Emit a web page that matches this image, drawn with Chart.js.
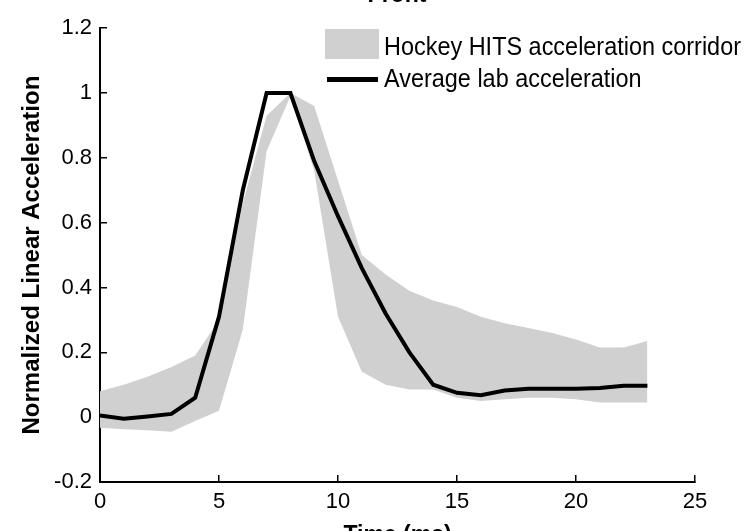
<!DOCTYPE html>
<html>
<head>
<meta charset="utf-8">
<script src="https://cdn.jsdelivr.net/npm/chart.js@4.4.0/dist/chart.umd.min.js"></script>
<style>
  html, body { margin: 0; padding: 0; background: #fff; overflow: hidden; }
  #wrap { width: 756px; height: 531px; }
</style>
</head>
<body>
<div id="wrap"><canvas id="myLineChart"></canvas></div>
<script>
// time (ms)
let times = [0, 1, 2, 3, 4, 5, 6, 7, 8, 9, 10, 11, 12, 13, 14, 15, 16, 17, 18, 19, 20, 21, 22, 23];
// average lab acceleration (normalized)
let labAccel = [0.005, -0.005, 0.002, 0.01, 0.06, 0.31, 0.70, 1.0, 1.0, 0.79, 0.62, 0.46, 0.32, 0.20, 0.10, 0.075, 0.068, 0.082, 0.088, 0.088, 0.088, 0.09, 0.097, 0.097];
// hockey HITS corridor bounds
let corridorUpper = [0.08, 0.10, 0.125, 0.155, 0.19, 0.30, 0.66, 0.93, 1.0, 0.96, 0.73, 0.50, 0.44, 0.39, 0.36, 0.34, 0.31, 0.29, 0.275, 0.26, 0.24, 0.215, 0.215, 0.235];
let corridorLower = [-0.033, -0.037, -0.04, -0.045, -0.012, 0.02, 0.27, 0.82, 0.99, 0.76, 0.31, 0.14, 0.10, 0.085, 0.085, 0.06, 0.05, 0.055, 0.06, 0.06, 0.055, 0.045, 0.045, 0.045];

let xTicks = [0, 5, 10, 15, 20, 25];
let yTicks = [-0.2, 0, 0.2, 0.4, 0.6, 0.8, 1, 1.2];

let legendLabels = ['Hockey HITS acceleration corridor', 'Average lab acceleration'];
let chartTitle = 'Front';

const FONT = "'Liberation Sans', Arial, sans-serif";
const GRAY = '#d0d0d0';

function pts(vals) {
    return times.map((t, i) => ({ x: t, y: vals[i] }));
}

// legend sits inside the axes, top right, like matlab
const cornerLegend = {
    id: 'cornerLegend',
    afterDraw(chart) {
        let c = chart.ctx;
        c.save();
        c.fillStyle = GRAY;
        c.fillRect(325, 29, 54, 30);
        c.strokeStyle = '#000';
        c.lineWidth = 5;
        c.beginPath();
        c.moveTo(327, 79.5);
        c.lineTo(378, 79.5);
        c.stroke();
        c.fillStyle = '#000';
        c.font = '25px ' + FONT;
        c.textBaseline = 'alphabetic';
        let w = c.measureText(legendLabels[0]).width;
        let sx = 357 / w;
        c.translate(384, 0);
        c.scale(sx, 1);
        c.fillText(legendLabels[0], 0, 55);
        c.fillText(legendLabels[1], 0, 87);
        c.restore();

        // title, mostly cut off at the top edge
        c.save();
        c.fillStyle = '#000';
        c.font = 'bold 23px ' + FONT;
        c.textAlign = 'center';
        c.textBaseline = 'alphabetic';
        c.fillText(chartTitle, 397, 2);
        c.restore();
    }
};

let ctx = document.getElementById('myLineChart').getContext('2d');
let myLineChart = new Chart(ctx, {
    type: 'line',
    data: {
        datasets: [{
            label: legendLabels[1],
            data: pts(labAccel),
            borderColor: '#000',
            borderWidth: 4,
            pointRadius: 0,
            fill: false,
            order: 0,
        }, {
            label: legendLabels[0],
            data: pts(corridorUpper),
            borderColor: 'rgba(0,0,0,0)',
            borderWidth: 0,
            pointRadius: 0,
            backgroundColor: GRAY,
            fill: '+1',
            order: 1,
        }, {
            label: 'corridor lower',
            data: pts(corridorLower),
            borderColor: 'rgba(0,0,0,0)',
            borderWidth: 0,
            pointRadius: 0,
            fill: false,
            order: 2,
        }]
    },
    options: {
        responsive: true,
        maintainAspectRatio: false,
        animation: false,
        layout: { padding: { top: 21, right: 61, left: 0, bottom: 0 } },
        plugins: {
            legend: { display: false },
            tooltip: { enabled: false },
        },
        scales: {
            x: {
                type: 'linear',
                min: 0,
                max: 25,
                afterBuildTicks: (axis) => { axis.ticks = xTicks.map(v => ({ value: v })); },
                afterFit: (axis) => { axis.height = 49; },
                grid: { drawOnChartArea: false, tickLength: -7, color: '#000', lineWidth: 1.5 },
                border: { color: '#000', width: 2 },
                ticks: {
                    padding: 14,
                    color: '#000',
                    maxRotation: 0,
                    autoSkip: false,
                    font: { family: FONT, size: 22 },
                    callback: (v) => String(v),
                },
                title: {
                    display: true,
                    text: 'Time (ms)',
                    color: '#000',
                    font: { family: FONT, size: 23, weight: 'bold' },
                    padding: { top: 0, bottom: -18 },
                },
            },
            y: {
                min: -0.2,
                max: 1.2,
                afterBuildTicks: (axis) => { axis.ticks = yTicks.map(v => ({ value: v })); },
                afterFit: (axis) => { axis.width = 100; },
                grid: { drawOnChartArea: false, tickLength: -7, color: '#000', lineWidth: 1.5 },
                border: { color: '#000', width: 2 },
                ticks: {
                    padding: 15,
                    color: '#000',
                    autoSkip: false,
                    font: { family: FONT, size: 22 },
                    callback: (v) => String(v),
                },
                title: {
                    display: true,
                    text: 'Normalized Linear Acceleration',
                    color: '#000',
                    font: { family: FONT, size: 24, weight: 'bold' },
                    padding: { top: 18, bottom: 0 },
                },
            },
        },
    },
    plugins: [cornerLegend],
});
</script>
</body>
</html>
